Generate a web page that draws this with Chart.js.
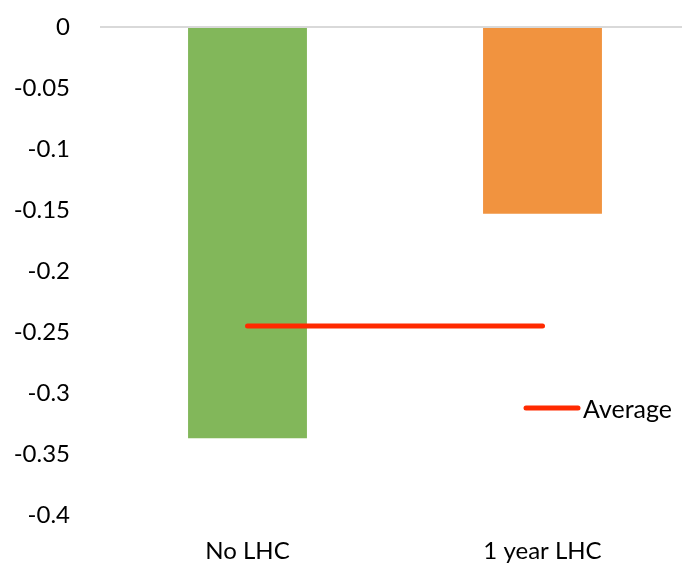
<!DOCTYPE html>
<html>
<head>
<meta charset="utf-8">
<script src="https://cdn.jsdelivr.net/npm/chart.js@4/dist/chart.umd.min.js"></script>
<style>
  html, body { margin: 0; padding: 0; background: #fff; overflow: hidden; }
  #wrap { width: 690px; height: 568px; }
</style>
</head>
<body>
<div id="wrap"><canvas id="c" width="690" height="568"></canvas></div>
<script>
// Categories and values
const categories = ['No LHC', '1 year LHC'];
const changeValues = [-0.337, -0.153];
const averageValues = [-0.245, -0.245];
const averageLabel = 'Average';
const barColors = ['#82B75A', '#F1933F'];

const FONT = 'Lato, "Open Sans", sans-serif';

// Draws the single-entry legend inside the plot area
const insideLegend = {
  id: 'insideLegend',
  afterDatasetsDraw(chart, args, opts) {
    const ctx = chart.ctx;
    const ds = chart.data.datasets[1];
    ctx.save();
    ctx.strokeStyle = ds.borderColor;
    ctx.lineWidth = ds.borderWidth;
    ctx.lineCap = 'round';
    ctx.beginPath();
    ctx.moveTo(opts.x, opts.y);
    ctx.lineTo(opts.x + opts.lineLength, opts.y);
    ctx.stroke();
    ctx.fillStyle = '#000';
    ctx.font = '25px ' + FONT;
    ctx.textAlign = 'left';
    ctx.textBaseline = 'middle';
    ctx.fillText(ds.label, opts.x + opts.lineLength + 5, opts.y + 2);
    ctx.restore();
  }
};

new Chart(document.getElementById('c'), {
  data: {
    labels: categories,
    datasets: [
      {
        type: 'bar',
        label: 'Change',
        data: changeValues,
        backgroundColor: barColors,
        borderWidth: 0,
        barPercentage: 1,
        categoryPercentage: 0.403,
        order: 2
      },
      {
        type: 'line',
        label: averageLabel,
        data: averageValues,
        borderColor: '#FF2A00',
        borderWidth: 5,
        borderCapStyle: 'round',
        pointRadius: 0,
        fill: false,
        order: 1
      }
    ]
  },
  options: {
    responsive: false,
    animation: false,
    layout: { padding: { left: 0, right: 0, top: 27, bottom: 0 } },
    plugins: {
      legend: { display: false },
      tooltip: { enabled: false },
      insideLegend: { x: 526, y: 408, lineLength: 52 }
    },
    scales: {
      x: {
        grid: { display: false, drawTicks: false },
        border: { display: false },
        ticks: { color: '#000', font: { family: FONT, size: 24 }, padding: 22 },
        afterFit(scale) { scale.height = 53; }
      },
      y: {
        min: -0.4,
        max: 0,
        border: { display: false },
        grid: {
          drawTicks: false,
          lineWidth: 2,
          color: (c) => (c.tick && c.tick.value === 0 ? '#D9D9D9' : 'rgba(0,0,0,0)')
        },
        ticks: {
          stepSize: 0.05,
          color: '#000',
          padding: 30,
          font: { family: FONT, size: 24 },
          callback: (v) => String(Math.round(v * 100) / 100)
        },
        afterFit(scale) {
          // fixed axis width; plot top/bottom come from the layout padding
          scale.width = 100;
          scale.paddingTop = 0;
          scale.paddingBottom = 0;
        }
      }
    }
  },
  plugins: [insideLegend]
});
</script>
</body>
</html>
